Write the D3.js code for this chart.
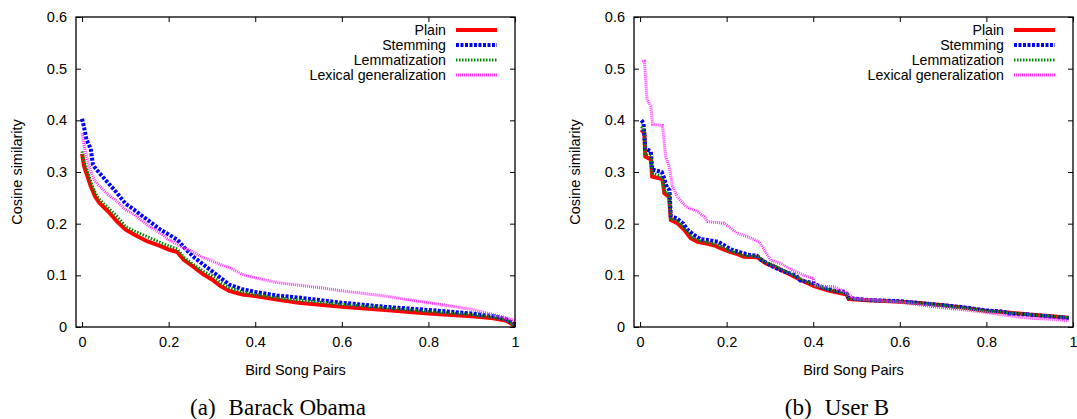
<!DOCTYPE html>
<html>
<head>
<meta charset="utf-8">
<script src="https://cdn.jsdelivr.net/npm/d3@7"></script>
<style>
  body { margin: 0; background: #fff; }
  text { font-family: "Liberation Sans", Arial, sans-serif; }
</style>
</head>
<body>
<div id="vis"></div>
<script>
// series names, in plot order
var seriesNames = ['Plain', 'Stemming', 'Lemmatization', 'Lexical generalization'];
var xTicks = [0, 0.2, 0.4, 0.6, 0.8, 1];
var yTicks = [0, 0.1, 0.2, 0.3, 0.4, 0.5, 0.6];

// (a) Barack Obama : [pair fraction, cosine similarity]
var obamaPlain = [[0,0.335],[0.005,0.31],[0.01,0.298],[0.02,0.273],[0.03,0.253],[0.04,0.24],[0.06,0.224],[0.08,0.205],[0.1,0.189],[0.12,0.179],[0.15,0.166],[0.18,0.157],[0.2,0.15],[0.22,0.145],[0.235,0.13],[0.26,0.115],[0.28,0.102],[0.3,0.092],[0.32,0.079],[0.34,0.07],[0.37,0.063],[0.4,0.06],[0.45,0.053],[0.5,0.047],[0.6,0.039],[0.7,0.033],[0.8,0.026],[0.9,0.021],[0.95,0.017],[0.98,0.012],[1,0.002]];
var obamaStem = [[0,0.403],[0.005,0.385],[0.01,0.363],[0.02,0.345],[0.025,0.315],[0.03,0.308],[0.04,0.298],[0.06,0.279],[0.08,0.26],[0.1,0.239],[0.12,0.227],[0.15,0.208],[0.18,0.189],[0.2,0.179],[0.22,0.169],[0.24,0.15],[0.26,0.134],[0.28,0.121],[0.3,0.108],[0.32,0.095],[0.34,0.082],[0.37,0.073],[0.4,0.068],[0.45,0.061],[0.5,0.057],[0.6,0.047],[0.7,0.039],[0.8,0.033],[0.9,0.026],[0.95,0.021],[0.98,0.015],[1,0.005]];
var obamaLemma = [[0,0.34],[0.005,0.32],[0.01,0.308],[0.02,0.282],[0.03,0.26],[0.04,0.247],[0.06,0.231],[0.08,0.215],[0.1,0.195],[0.12,0.186],[0.15,0.175],[0.18,0.164],[0.2,0.157],[0.22,0.151],[0.235,0.135],[0.26,0.119],[0.28,0.108],[0.3,0.099],[0.32,0.086],[0.34,0.076],[0.37,0.068],[0.4,0.063],[0.45,0.057],[0.5,0.052],[0.6,0.044],[0.7,0.037],[0.8,0.03],[0.9,0.024],[0.95,0.019],[0.98,0.014],[1,0.002]];
var obamaLex = [[0,0.375],[0.005,0.35],[0.01,0.331],[0.02,0.302],[0.03,0.282],[0.04,0.273],[0.06,0.256],[0.08,0.244],[0.1,0.227],[0.12,0.218],[0.15,0.198],[0.18,0.182],[0.2,0.169],[0.22,0.16],[0.24,0.151],[0.26,0.144],[0.28,0.134],[0.3,0.128],[0.32,0.121],[0.34,0.115],[0.37,0.102],[0.4,0.095],[0.45,0.086],[0.5,0.081],[0.55,0.076],[0.6,0.07],[0.7,0.06],[0.8,0.047],[0.9,0.034],[0.95,0.024],[0.98,0.018],[1,0.012]];

// (b) User B
var userPlain = [[0.003,0.382],[0.01,0.375],[0.012,0.33],[0.025,0.324],[0.028,0.291],[0.044,0.288],[0.052,0.285],[0.056,0.259],[0.067,0.252],[0.071,0.207],[0.086,0.201],[0.102,0.188],[0.117,0.172],[0.133,0.165],[0.156,0.161],[0.175,0.157],[0.187,0.152],[0.206,0.146],[0.225,0.141],[0.24,0.136],[0.271,0.135],[0.291,0.123],[0.31,0.117],[0.341,0.104],[0.371,0.091],[0.402,0.079],[0.433,0.071],[0.477,0.063],[0.482,0.054],[0.526,0.052],[0.6,0.049],[0.65,0.046],[0.7,0.042],[0.75,0.037],[0.8,0.031],[0.85,0.028],[0.9,0.024],[0.95,0.021],[0.99,0.018]];
var userStem = [[0.003,0.4],[0.008,0.395],[0.012,0.345],[0.025,0.34],[0.028,0.305],[0.05,0.3],[0.055,0.29],[0.062,0.27],[0.068,0.265],[0.071,0.215],[0.085,0.21],[0.1,0.2],[0.11,0.188],[0.125,0.178],[0.14,0.17],[0.16,0.168],[0.18,0.165],[0.195,0.158],[0.21,0.15],[0.23,0.145],[0.25,0.14],[0.27,0.138],[0.28,0.13],[0.3,0.12],[0.31,0.115],[0.33,0.108],[0.36,0.1],[0.37,0.09],[0.4,0.085],[0.42,0.077],[0.45,0.07],[0.475,0.068],[0.482,0.056],[0.53,0.052],[0.6,0.05],[0.65,0.046],[0.7,0.042],[0.75,0.038],[0.8,0.032],[0.84,0.03],[0.85,0.026],[0.9,0.024],[0.95,0.02],[0.99,0.017]];
var userLemma = [[0.003,0.388],[0.01,0.38],[0.012,0.335],[0.025,0.33],[0.028,0.298],[0.045,0.293],[0.052,0.288],[0.056,0.262],[0.067,0.257],[0.071,0.21],[0.086,0.205],[0.102,0.192],[0.117,0.176],[0.133,0.168],[0.156,0.164],[0.175,0.16],[0.19,0.155],[0.206,0.148],[0.225,0.143],[0.24,0.138],[0.271,0.137],[0.291,0.125],[0.31,0.119],[0.341,0.106],[0.371,0.093],[0.402,0.081],[0.433,0.073],[0.477,0.065],[0.482,0.055],[0.526,0.052],[0.6,0.049],[0.65,0.046],[0.7,0.042],[0.75,0.037],[0.8,0.031],[0.85,0.028],[0.9,0.024],[0.95,0.021],[0.99,0.018]];
var userLex = [[0.005,0.515],[0.01,0.515],[0.016,0.44],[0.025,0.427],[0.029,0.392],[0.052,0.39],[0.059,0.33],[0.067,0.311],[0.075,0.272],[0.086,0.252],[0.106,0.233],[0.133,0.223],[0.148,0.214],[0.156,0.204],[0.194,0.201],[0.21,0.191],[0.225,0.181],[0.248,0.175],[0.275,0.165],[0.287,0.149],[0.302,0.129],[0.325,0.123],[0.352,0.11],[0.379,0.1],[0.4,0.094],[0.405,0.081],[0.418,0.079],[0.449,0.078],[0.479,0.065],[0.495,0.055],[0.6,0.048],[0.65,0.042],[0.7,0.037],[0.75,0.033],[0.8,0.028],[0.85,0.022],[0.9,0.017],[0.95,0.015],[0.99,0.012]];

// gnuplot-ish line styles
var styles = [
  {color: '#ff0000', width: 4, dash: null},
  {color: '#0000ff', width: 4, dash: '3,1.5'},
  {color: '#008a00', width: 3, dash: '1.5,1.5'},
  {color: '#ff33ff', width: 3, dash: '1,1'}
];

var svg = d3.select('#vis').append('svg')
    .attr('width', 1077)
    .attr('height', 419);

function panel(left, right, series, caption, captionX) {
    var top = 17, bottom = 327;

    var x = d3.scaleLinear().domain([-0.014, 1]).range([left, right]);
    var y = d3.scaleLinear().domain([0, 0.6]).range([bottom, top]);
    var fmt = d3.format('~g');

    var g = svg.append('g');

    // axes with inward ticks, mirrored on top/right
    g.append('g')
        .attr('transform', 'translate(0,' + bottom + ')')
        .call(d3.axisBottom(x).tickValues(xTicks).tickFormat(fmt).tickSize(-5).tickPadding(10));
    g.append('g')
        .attr('transform', 'translate(0,' + top + ')')
        .call(d3.axisTop(x).tickValues(xTicks).tickFormat('').tickSize(-5));
    g.append('g')
        .attr('transform', 'translate(' + left + ',0)')
        .call(d3.axisLeft(y).tickValues(yTicks).tickFormat(fmt).tickSize(-5).tickPadding(9));
    g.append('g')
        .attr('transform', 'translate(' + right + ',0)')
        .call(d3.axisRight(y).tickValues(yTicks).tickFormat('').tickSize(-5));

    g.selectAll('.domain').remove();
    g.selectAll('.tick line').attr('stroke', '#000').attr('stroke-width', 1);
    g.selectAll('.tick text').attr('font-size', 14.5).attr('fill', '#000')
        .attr('font-family', '"Liberation Sans", Arial, sans-serif');

    var line = d3.line()
        .x(d => x(d[0]))
        .y(d => y(d[1]));

    series.forEach(function(s, i) {
        g.append('path')
            .datum(s)
            .attr('fill', 'none')
            .attr('stroke', styles[i].color)
            .attr('stroke-width', styles[i].width)
            .attr('stroke-dasharray', styles[i].dash)
            .attr('d', line);
    });

    // frame
    g.append('rect')
        .attr('x', left).attr('y', top)
        .attr('width', right - left).attr('height', bottom - top)
        .attr('fill', 'none').attr('stroke', '#000').attr('stroke-width', 1.3);

    // legend
    seriesNames.forEach(function(name, i) {
        var ly = 30 + i * 15;
        g.append('text')
            .attr('x', right - 69).attr('y', ly)
            .attr('dy', '0.35em')
            .attr('text-anchor', 'end')
            .attr('font-size', 14.2)
            .text(name);
        g.append('line')
            .attr('x1', right - 59).attr('x2', right - 18)
            .attr('y1', ly).attr('y2', ly)
            .attr('stroke', styles[i].color)
            .attr('stroke-width', styles[i].width)
            .attr('stroke-dasharray', styles[i].dash);
    });

    g.append('text')
        .attr('x', (left + right) / 2).attr('y', 375)
        .attr('text-anchor', 'middle')
        .attr('font-size', 14.5)
        .text('Bird Song Pairs');

    g.append('text')
        .attr('transform', 'translate(' + (left - 59) + ',' + ((top + bottom) / 2) + ') rotate(-90)')
        .attr('dy', '0.35em')
        .attr('text-anchor', 'middle')
        .attr('font-size', 14.5)
        .text('Cosine similarity');

    var cap = g.append('text')
        .attr('x', captionX).attr('y', 415)
        .attr('text-anchor', 'middle')
        .attr('font-size', 23)
        .style('font-family', '"Liberation Serif", "DejaVu Serif", serif');
    cap.append('tspan').text(caption[0]);
    cap.append('tspan').attr('dx', 13).text(caption[1]);
}

panel(76, 515, [obamaPlain, obamaStem, obamaLemma, obamaLex], ['(a)', 'Barack Obama'], 278);
panel(634, 1073, [userPlain, userStem, userLemma, userLex], ['(b)', 'User B'], 837);
</script>
</body>
</html>
